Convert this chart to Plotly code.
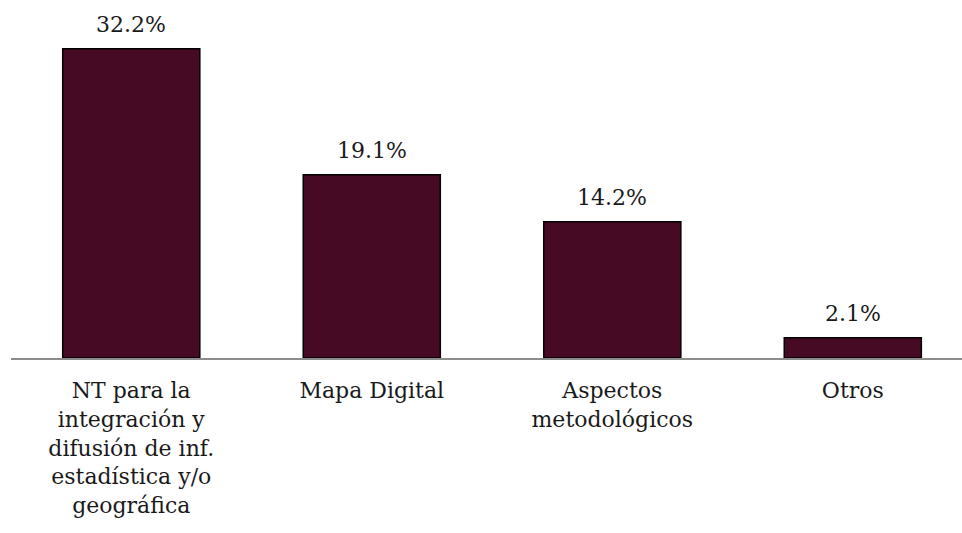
import plotly.graph_objects as go

categories = [
    "NT para la<br>integración y<br>difusión de inf.<br>estadística y/o<br>geográfica",
    "Mapa Digital",
    "Aspectos<br>metodológicos",
    "Otros",
]
values = [32.2, 19.1, 14.2, 2.1]
labels = [f"{v:.1f}%" for v in values]
xs = list(range(len(categories)))

fig = go.Figure()
fig.add_trace(go.Bar(
    x=xs, y=values,
    marker=dict(color="#470a24", line=dict(color="#000000", width=1.5)),
    width=0.57, hoverinfo="skip",
))

# value labels above the bars
for x, v, t in zip(xs, values, labels):
    fig.add_annotation(x=x, y=v, text=t, showarrow=False, yanchor="bottom",
                       yshift=10, font=dict(size=22, color="#1a1a1a"))

fig.update_layout(
    width=962, height=533,
    margin=dict(l=11, r=0, t=0, b=175),
    paper_bgcolor="white", plot_bgcolor="white",
    font=dict(family="DejaVu Serif, Liberation Serif, serif", size=21, color="#1a1a1a"),
    showlegend=False,
    xaxis=dict(
        range=[-0.5, 3.454],
        tickmode="array", tickvals=xs, ticktext=categories,
        showline=True, linecolor="#8c8c8c", linewidth=2,
        ticks="outside", ticklen=12, tickcolor="rgba(0,0,0,0)",
        showgrid=False, zeroline=False,
        tickfont=dict(size=22),
    ),
    yaxis=dict(range=[0, 37.29], visible=False, showgrid=False),
)

fig.write_html("out.html", config={"displayModeBar": False},
               post_script="document.body.style.margin='0';")
